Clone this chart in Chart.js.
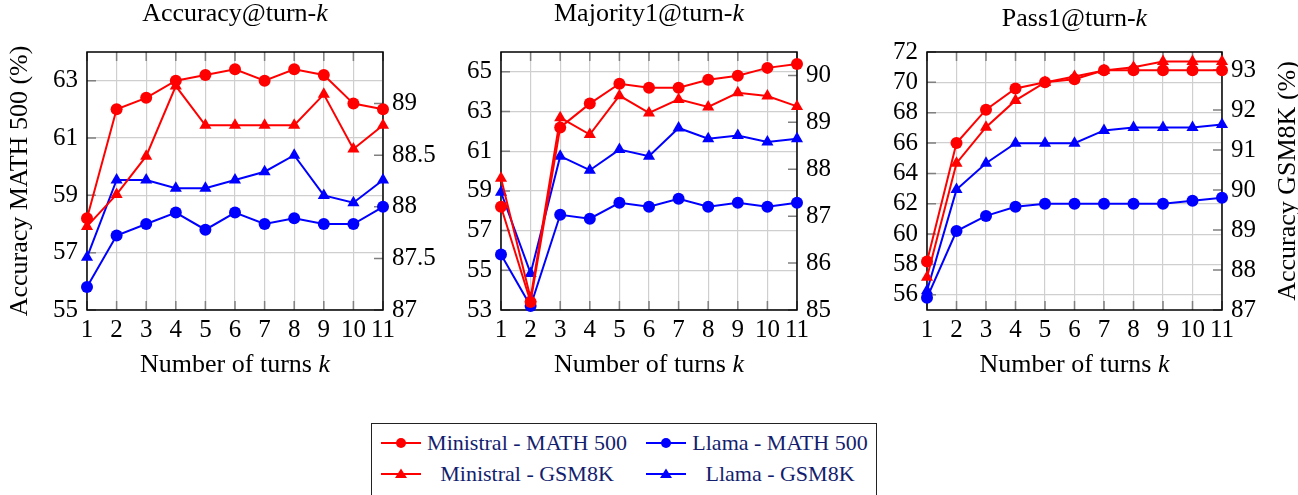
<!DOCTYPE html>
<html>
<head>
<meta charset="utf-8">
<script src="https://cdn.jsdelivr.net/npm/chart.js@4.4.1/dist/chart.umd.min.js"></script>
<style>
  html, body { margin: 0; padding: 0; background: #fff; }
  body { width: 1298px; height: 495px; overflow: hidden; position: relative; font-family: 'Liberation Serif', serif; }
  .panel { position: absolute; top: 0; }
  #legend { position: absolute; left: 371px; top: 423px; width: 506px; height: 90px; border: 1px solid #222; box-sizing: border-box; }
  .item { position: absolute; height: 24px; }
  .item svg { position: absolute; top: 5px; }
  .item span { position: absolute; top: 0; font-size: 22px; line-height: 24px; color: #141e6e; white-space: nowrap; transform: translateX(-50%); }
</style>
</head>
<body>
<div class="panel" style="left:0"><canvas id="acc" width="445" height="395"></canvas></div>
<div class="panel" style="left:445px"><canvas id="maj" width="415" height="395"></canvas></div>
<div class="panel" style="left:860px"><canvas id="pass" width="438" height="395"></canvas></div>
<div id="legend"></div>

<script>
const turns = ['1', '2', '3', '4', '5', '6', '7', '8', '9', '10', '11'];
const seriesNames = ['Ministral - MATH 500', 'Llama - MATH 500', 'Ministral - GSM8K', 'Llama - GSM8K'];

// Accuracy@turn-k
const accMinistralMath = [58.2, 62.0, 62.4, 63.0, 63.2, 63.4, 63.0, 63.4, 63.2, 62.2, 62.0];
const accLlamaMath     = [55.8, 57.6, 58.0, 58.4, 57.8, 58.4, 58.0, 58.2, 58.0, 58.0, 58.6];
const accMinistralGsm  = [87.81, 88.12, 88.49, 89.17, 88.79, 88.79, 88.79, 88.79, 89.09, 88.56, 88.79];
const accLlamaGsm      = [87.51, 88.26, 88.26, 88.18, 88.18, 88.26, 88.34, 88.50, 88.11, 88.04, 88.26];

// Majority1@turn-k
const majMinistralMath = [58.2, 53.4, 62.2, 63.4, 64.4, 64.2, 64.2, 64.6, 64.8, 65.2, 65.4];
const majLlamaMath     = [55.8, 53.2, 57.8, 57.6, 58.4, 58.2, 58.6, 58.2, 58.4, 58.2, 58.4];
const majMinistralGsm  = [87.81, 85.25, 89.10, 88.74, 89.57, 89.20, 89.49, 89.33, 89.63, 89.56, 89.34];
const majLlamaGsm      = [87.51, 85.78, 88.28, 87.98, 88.42, 88.28, 88.88, 88.65, 88.72, 88.58, 88.65];

// Pass1@turn-k
const passMinistralMath = [58.2, 66.0, 68.2, 69.6, 70.0, 70.2, 70.8, 70.8, 70.8, 70.8, 70.8];
const passLlamaMath     = [55.8, 60.2, 61.2, 61.8, 62.0, 62.0, 62.0, 62.0, 62.0, 62.2, 62.4];
const passMinistralGsm  = [87.82, 90.67, 91.57, 92.24, 92.69, 92.84, 92.99, 93.07, 93.21, 93.21, 93.21];
const passLlamaGsm      = [87.48, 90.01, 90.67, 91.17, 91.17, 91.17, 91.49, 91.56, 91.56, 91.56, 91.64];

// tick labels
const accMathTicks  = [55, 57, 59, 61, 63];
const accGsmTicks   = [87, 87.5, 88, 88.5, 89];
const majMathTicks  = [53, 55, 57, 59, 61, 63, 65];
const majGsmTicks   = [85, 86, 87, 88, 89, 90];
const passMathTicks = [56, 58, 60, 62, 64, 66, 68, 70, 72];
const passGsmTicks  = [87, 88, 89, 90, 91, 92, 93];

const RED = '#ff0000';
const BLUE = '#0000ff';
const GRID = '#cfcfcf';
const FONT = "'Liberation Serif', serif";

// draws "text" + italic "k" style strings centred on (cx, cy)
function drawMixed(ctx, parts, cx, cy, size) {
  const fonts = parts.map(p => (p[1] ? 'italic ' : '') + size + 'px ' + FONT);
  let w = 0;
  parts.forEach((p, i) => { ctx.font = fonts[i]; w += ctx.measureText(p[0]).width; });
  let x = cx - w / 2;
  ctx.textAlign = 'left';
  ctx.textBaseline = 'middle';
  parts.forEach((p, i) => { ctx.font = fonts[i]; ctx.fillText(p[0], x, cy); x += ctx.measureText(p[0]).width; });
}

const frame = {
  id: 'frame',
  beforeDatasetsDraw(chart) {
    const { ctx, chartArea: a, scales } = chart;
    const tl = 9;
    ctx.save();
    ctx.strokeStyle = '#808080';
    ctx.lineWidth = 1.5;
    ctx.beginPath();
    scales.x.ticks.forEach((t, i) => {
      const x = scales.x.getPixelForTick(i);
      ctx.moveTo(x, a.top); ctx.lineTo(x, a.top + tl);
      ctx.moveTo(x, a.bottom); ctx.lineTo(x, a.bottom - tl);
    });
    scales.yL.ticks.forEach(t => {
      const y = scales.yL.getPixelForValue(t.value);
      ctx.moveTo(a.left, y); ctx.lineTo(a.left + tl, y);
    });
    scales.yR.ticks.forEach(t => {
      const y = scales.yR.getPixelForValue(t.value);
      ctx.moveTo(a.right, y); ctx.lineTo(a.right - tl, y);
    });
    ctx.stroke();
    ctx.strokeStyle = '#000';
    ctx.lineWidth = 1.5;
    ctx.strokeRect(a.left, a.top, a.right - a.left, a.bottom - a.top);
    ctx.restore();
  },
  afterDraw(chart, args, opts) {
    const { ctx, chartArea: a } = chart;
    const cx = (a.left + a.right) / 2;
    const cy = (a.top + a.bottom) / 2;
    ctx.save();
    ctx.fillStyle = '#000';
    drawMixed(ctx, [[opts.title, false], ['k', true]], cx, opts.titleY, 26);
    drawMixed(ctx, [['Number of turns ', false], ['k', true]], cx, 365, 26);
    if (opts.leftTitle) {
      ctx.save(); ctx.translate(opts.leftTitleX, cy); ctx.rotate(-Math.PI / 2);
      drawMixed(ctx, [[opts.leftTitle, false]], 0, 0, 26);
      ctx.restore();
    }
    if (opts.rightTitle) {
      ctx.save(); ctx.translate(opts.rightTitleX, cy); ctx.rotate(-Math.PI / 2);
      drawMixed(ctx, [[opts.rightTitle, false]], 0, 0, 26);
      ctx.restore();
    }
    ctx.restore();
  }
};

function zeroPad(s) { s.paddingTop = 0; s.paddingBottom = 0; s.paddingLeft = 0; s.paddingRight = 0; }

function dataset(label, data, axis, color, shape) {
  return {
    label, data, yAxisID: axis,
    borderColor: color, backgroundColor: color,
    borderWidth: 2, pointStyle: shape,
    pointRadius: shape === 'circle' ? 6 : 7,
    pointBorderWidth: 0, tension: 0, clip: false
  };
}

function yScale(pos, min, max, ticks, width) {
  return {
    position: pos, min, max,
    afterBuildTicks: s => { s.ticks = ticks.map(v => ({ value: v })); },
    afterFit: s => { s.width = width; zeroPad(s); },
    grid: { display: pos === 'left', color: GRID, lineWidth: 1.2, drawTicks: false },
    border: { display: false },
    ticks: { color: '#000', padding: 9, autoSkip: false, font: { family: FONT, size: 25 }, callback: v => String(v) }
  };
}

function makeChart(id, c) {
  new Chart(document.getElementById(id), {
    type: 'line',
    data: {
      labels: turns,
      datasets: [
        dataset(seriesNames[0], c.mm, 'yL', RED, 'circle'),
        dataset(seriesNames[1], c.lm, 'yL', BLUE, 'circle'),
        dataset(seriesNames[2], c.mg, 'yR', RED, 'triangle'),
        dataset(seriesNames[3], c.lg, 'yR', BLUE, 'triangle')
      ]
    },
    options: {
      responsive: false,
      animation: false,
      events: [],
      layout: { padding: { top: 52, left: 0, right: 0, bottom: 0 } },
      plugins: {
        legend: { display: false },
        tooltip: { enabled: false },
        frame: c.frame
      },
      scales: {
        x: {
          type: 'category', offset: false,
          afterFit: s => { s.height = 85; zeroPad(s); },
          grid: { color: GRID, lineWidth: 1.2, drawTicks: false, offset: false },
          border: { display: false },
          ticks: { color: '#000', padding: 5, maxRotation: 0, autoSkip: false, font: { family: FONT, size: 25 } }
        },
        yL: yScale('left', c.lmin, c.lmax, c.lticks, c.lw),
        yR: yScale('right', c.rmin, c.rmax, c.rticks, c.rw)
      }
    },
    plugins: [frame]
  });
}

makeChart('acc', {
  mm: accMinistralMath, lm: accLlamaMath, mg: accMinistralGsm, lg: accLlamaGsm,
  lmin: 55, lmax: 64, lticks: accMathTicks, rmin: 87, rmax: 89.5, rticks: accGsmTicks,
  lw: 87, rw: 62,
  frame: { title: 'Accuracy@turn-', titleY: 14, leftTitle: 'Accuracy MATH 500 (%)', leftTitleX: 20 }
});
makeChart('maj', {
  mm: majMinistralMath, lm: majLlamaMath, mg: majMinistralGsm, lg: majLlamaGsm,
  lmin: 53, lmax: 66, lticks: majMathTicks, rmin: 85, rmax: 90.5, rticks: majGsmTicks,
  lw: 56, rw: 63,
  frame: { title: 'Majority1@turn-', titleY: 14 }
});
makeChart('pass', {
  mm: passMinistralMath, lm: passLlamaMath, mg: passMinistralGsm, lg: passLlamaGsm,
  lmin: 55, lmax: 72, lticks: passMathTicks, rmin: 87, rmax: 93.45, rticks: passGsmTicks,
  lw: 67, rw: 76,
  frame: { title: 'Pass1@turn-', titleY: 19, rightTitle: 'Accuracy GSM8K (%)', rightTitleX: 428 }
});

// legend: two columns, two rows
const legendPos = [
  { x: 9, y: 7, tx: 155 }, { x: 274, y: 7, tx: 408 },
  { x: 9, y: 38, tx: 155 }, { x: 274, y: 38, tx: 408 }
];
const legendColors = [RED, BLUE, RED, BLUE];
const legendShapes = ['circle', 'circle', 'triangle', 'triangle'];
const legend = document.getElementById('legend');
seriesNames.forEach((name, i) => {
  const p = legendPos[i];
  const col = legendColors[i];
  const mark = legendShapes[i] === 'circle'
    ? `<circle cx="20" cy="7" r="5" fill="${col}"/>`
    : `<polygon points="20,1.5 26,11 14,11" fill="${col}"/>`;
  const div = document.createElement('div');
  div.className = 'item';
  div.style.left = '0px';
  div.style.top = p.y + 'px';
  div.innerHTML = `<svg width="40" height="14" style="left:${p.x}px"><line x1="0" y1="7" x2="40" y2="7" stroke="${col}" stroke-width="2"/>${mark}</svg>` +
    `<span style="left:${p.tx}px">${name}</span>`;
  legend.appendChild(div);
});
</script>
</body>
</html>
